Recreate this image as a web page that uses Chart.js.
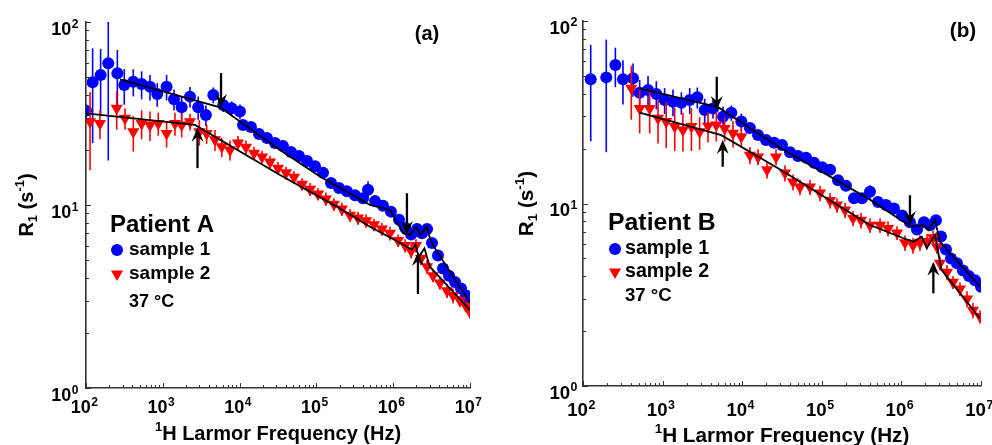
<!DOCTYPE html>
<html><head><meta charset="utf-8">
<script src="https://cdn.jsdelivr.net/npm/chart.js@4.4.1/dist/chart.umd.min.js"></script>
<style>
html,body{margin:0;padding:0;background:#fff;width:992px;height:445px;overflow:hidden}
canvas{position:absolute;top:0}
#ca{left:0}
#cb{left:496px}
</style></head><body>
<canvas id="ca" width="496" height="445"></canvas>
<canvas id="cb" width="496" height="445"></canvas>
<script>
// ---------- Tick labels ----------
const xTickExps = ['2','3','4','5','6','7'];
const yTickExps = ['0','1','2'];

// ---------- Panel (a) : Patient A ----------
const aS1Freq = [100,122,155,195,256,315,413,530,681,847,1120,1400,1760,2260,2890,3640,4550,6110,7880,10100,
  11070,14060,17900,22700,28900,36700,46700,59300,75500,95900,122000,155000,197000,250000,318000,404000,470000,580000,736000,935000,
  1190000,1430000,1710000,2040000,2370000,2760000,3200000,3830000,4450000,5330000,6380000,7640000,8870000,10000000];
const aS1R = [32.7,46.8,51.3,59.5,52.4,45.3,47.2,45.8,44.3,40.4,44.3,37.8,34.2,39.1,34.2,31.0,39.9,35.2,33.8,32.4,
  27.4,26.7,24.4,23.2,21.8,21.0,19.5,18.5,17.4,16.3,15.0,13.2,12.4,11.9,11.3,10.9,12.1,10.5,9.9,9.2,
  8.3,7.5,6.9,7.4,7.0,7.4,6.2,5.3,4.5,4.1,3.8,3.5,3.2,2.95];
const aS1Err = [3,25,20,42,18,10,8,8,7,6,7,5,5,5,5,4,4,3,3,3,
  1.5,1.5,1.3,1.2,1.1,1.4,1.0,1.0,0.9,1.0,0.8,0.8,0.7,0.7,0.6,0.6,1.4,0.6,0.5,0.5,
  0.5,0.4,0.4,0.5,0.4,0.4,0.3,0.3,0.3,0.25,0.2,0.2,0.2,0.2];

const aS2Freq = [113,152,251,322,413,530,681,873,1120,1440,1760,2260,2990,3720,4780,5850,7500,
  9530,12100,15400,19600,24900,31600,40200,51100,65000,82600,105000,133000,169000,215000,274000,348000,443000,562000,714000,908000,
  1160000,1430000,1710000,1980000,2300000,2760000,3300000,4060000,5020000,6010000,7410000,8870000,10000000];
const aS2R = [28.5,27.9,33.8,29.8,25.1,27.9,27.4,27.9,24.6,27.9,27.4,28.5,25.1,24.6,22.7,20.8,20.0,
  21.8,20.7,19.2,18.3,17.2,15.9,15.0,14.2,13.0,12.2,11.5,10.8,10.1,9.5,8.8,8.5,8.2,7.8,7.4,7.0,
  6.4,6.0,5.6,6.0,5.1,4.6,4.1,3.75,3.4,3.2,3.0,2.8,2.6];
const aS2Err = [13,5,8,4,5.5,5,5,4,4,4,4,3,4,3,3,2.5,2.5,
  2,1.8,1.6,1.5,1.4,1.3,1.2,1.1,1.0,1.0,0.9,0.9,0.8,0.8,0.7,0.7,0.7,0.6,0.6,0.6,
  0.5,0.5,0.5,0.5,0.4,0.4,0.3,0.3,0.3,0.3,0.2,0.2,0.2];

const aFit1Freq = [277,5560,33600,111000,499000,908000,1350000,1660000,2000000,2270000,2720000,3000000,3400000,10000000];
const aFit1R = [48.6,34.2,20.0,14.3,10.0,9.4,7.0,6.86,7.6,6.86,7.6,6.6,5.9,2.93];
const aFit2Freq = [100,2620,33600,184000,499000,1110000,1740000,1950000,2150000,2550000,3000000,10000000];
const aFit2R = [31.7,27.4,14.6,9.8,7.6,6.36,5.7,6.1,5.2,5.8,4.6,2.67];

const aArrowFreq = [5730,2830,1510000,2100000];
const aArrowFrom = [52.6,15.9,11.6,3.26];
const aArrowTo = [33.9,26.4,6.86,5.53];

// ---------- Panel (b) : Patient B ----------
const bS1Freq = [125,196,255,318,425,515,656,834,1060,1350,1720,2190,2730,3380,4300,5740,7300,9750,
  12500,15800,19900,25100,31600,39900,50200,63400,79800,101000,127000,160000,201000,254000,320000,403000,508000,641000,807000,1020000,
  1280000,1570000,1920000,2290000,2720000,3140000,3630000,4200000,4990000,5940000,7060000,8410000,10000000];
const bS1R = [47.9,49.1,57.4,47.9,48.5,40.5,41.9,39.8,36.9,36.1,35.7,36.9,38.2,32.5,33.2,29.9,31.4,28.1,
  25.9,23.7,22.3,21.5,20.9,19.1,18.2,17.8,16.7,15.8,15.3,13.4,12.5,10.7,10.7,11.6,10.2,9.8,9.4,8.6,
  7.9,7.2,7.9,7.6,8.1,6.6,5.6,5.0,4.7,4.3,4.0,3.8,3.5];
const bS1Err = [26,30,14,13,10,7,8,7,6,6,5,6,5,5,4,4,3,3,
  1.5,1.4,1.3,1.2,1.2,1.1,1.0,1.0,0.9,0.9,0.8,0.8,0.7,0.6,0.6,1.0,0.6,0.5,0.5,0.5,
  0.4,0.4,0.4,0.4,0.4,0.35,0.3,0.3,0.25,0.25,0.2,0.2,0.2];

const bS2Freq = [404,515,688,876,1110,1420,1800,2300,2920,3720,4730,6020,7660,9750,
  12500,15800,20500,26600,34500,43500,53200,71100,94900,127000,155000,196000,247000,311000,403000,539000,679000,881000,
  1110000,1400000,1710000,2100000,2500000,2800000,3050000,3740000,4450000,5440000,6670000,7930000,9710000];
const bS2R = [42.8,33.2,33.2,29.3,28.1,26.4,25.3,26.4,24.7,26.6,26.9,25.8,24.3,23.2,
  18.4,18.0,15.3,18.0,14.7,13.1,12.3,12.3,11.4,10.4,9.8,9.2,8.3,8.1,7.6,7.6,7.3,6.9,
  6.1,5.9,6.1,6.2,6.5,5.8,4.7,4.2,3.7,3.4,3.0,2.6,2.4];
const bS2Err = [14,9,9,8,8,7,6,7,5,5,5,4,4,3,
  2,1.8,1.6,1.8,1.5,1.3,1.2,1.2,1.1,1.0,0.9,0.9,0.8,0.8,0.7,0.7,0.7,0.6,
  0.6,0.6,0.6,0.6,0.6,0.5,0.4,0.4,0.3,0.3,0.3,0.25,0.2];

const bFit1Freq = [515,4970,28200,403000,1060000,1410000,1880000,2180000,2640000,3050000,9700000];
const bFit1R = [42.8,33.7,20.5,10.5,7.95,7.46,7.62,7.16,8.13,6.18,3.5];
const bFit2Freq = [515,5460,28200,403000,1060000,1410000,1800000,2080000,2640000,2910000,3200000,9700000];
const bFit2R = [31.5,23.7,15.6,7.62,6.45,6.18,6.58,5.69,6.72,5.34,4.32,2.35];

const bArrowFreq = [4790,5690,1280000,2520000];
const bArrowFrom = [49.5,15.9,11.1,3.22];
const bArrowTo = [32.5,22.3,7.62,4.8];

// ---------- drawing ----------
const BLUE = '#0000ff', RED = '#ff0000', AXIS = '#333333';
const FF = '"Liberation Sans", Arial, Helvetica, sans-serif';
function pts(f, r) { return f.map((x, i) => ({x: x, y: r[i]})); }

function drawPow(c, exp, x, y, align, s, raise) {
  const b = 18 * s, e = 12 * s;
  c.font = 'bold ' + b + 'px ' + FF; const wb = c.measureText('10').width;
  c.font = 'bold ' + e + 'px ' + FF; const we = c.measureText(exp).width;
  const x0 = align === 'right' ? x - wb - we : x - (wb + we) / 2;
  c.textAlign = 'left'; c.textBaseline = 'alphabetic'; c.fillStyle = '#000';
  c.font = 'bold ' + b + 'px ' + FF; c.fillText('10', x0, y);
  c.font = 'bold ' + e + 'px ' + FF; c.fillText(exp, x0 + wb + 0.5, y - raise * s);
}
function drawRuns(c, runs, x, y) {
  let total = 0;
  runs.forEach(r => { c.font = 'bold ' + r.size + 'px ' + FF; r.w = c.measureText(r.t).width; total += r.w; });
  let cx = x - total / 2;
  c.textAlign = 'left'; c.textBaseline = 'alphabetic'; c.fillStyle = '#000';
  runs.forEach(r => { c.font = 'bold ' + r.size + 'px ' + FF; c.fillText(r.t, cx, y + r.dy); cx += r.w; });
}
function arrow(c, x, y0, y1) {
  const dir = y1 > y0 ? 1 : -1, L = 14, W = 6, N = 9;
  c.strokeStyle = '#000'; c.lineWidth = 2.3;
  c.beginPath(); c.moveTo(x, y0); c.lineTo(x, y1 - dir * N); c.stroke();
  c.fillStyle = '#000';
  c.beginPath(); c.moveTo(x, y1); c.lineTo(x - W, y1 - dir * L); c.lineTo(x, y1 - dir * N); c.lineTo(x + W, y1 - dir * L); c.closePath(); c.fill();
}

function build(P) {
  const s = P.s;
  const decor = {
    id: 'decor',
    beforeDatasetDraw(chart, args) {
      const ds = chart.data.datasets[args.index];
      if (!ds.errBars) return;
      const xs = chart.scales.x, ys = chart.scales.y, c = chart.ctx, a = chart.chartArea;
      c.save();
      c.beginPath(); c.rect(a.left, a.top, a.right - a.left, a.bottom - a.top); c.clip();
      c.strokeStyle = ds.backgroundColor; c.lineWidth = 1.6;
      ds.data.forEach((p, i) => {
        const e = ds.errBars[i];
        const px = xs.getPixelForValue(p.x);
        const y1 = ys.getPixelForValue(p.y + e), y2 = ys.getPixelForValue(Math.max(p.y - e, 1.01));
        c.beginPath(); c.moveTo(px, y1); c.lineTo(px, y2); c.stroke();
      });
      c.restore();
    },
    afterDraw(chart) {
      const xs = chart.scales.x, ys = chart.scales.y, c = chart.ctx, a = chart.chartArea;
      c.save();
      // inward tick marks
      c.strokeStyle = AXIS; c.lineWidth = 1;
      for (let e = 2; e <= 7; e++) for (let m = 1; m <= 9; m++) {
        if (e === 7 && m > 1) break;
        const px = Math.round(xs.getPixelForValue(m * Math.pow(10, e))) + 0.5, L = m === 1 ? 5 : 3;
        c.beginPath(); c.moveTo(px, a.bottom); c.lineTo(px, a.bottom - L); c.stroke();
      }
      for (let e = 0; e <= 2; e++) for (let m = 1; m <= 9; m++) {
        if (e === 2 && m > 1) break;
        const py = Math.round(ys.getPixelForValue(m * Math.pow(10, e))) + 0.5, L = m === 1 ? 5 : 3;
        c.beginPath(); c.moveTo(a.left, py); c.lineTo(a.left + L, py); c.stroke();
      }
      // tick labels
      xTickExps.forEach(ex => drawPow(c, ex, xs.getPixelForValue(Math.pow(10, +ex)) - 2, P.xLabBase, 'center', s, 7));
      yTickExps.forEach(ex => drawPow(c, ex, a.left - P.yLabGap, ys.getPixelForValue(Math.pow(10, +ex)) + 12.5, 'right', s, 7));
      // axis titles
      drawRuns(c, [{t: '1', size: 13 * s, dy: -9 * s}, {t: 'H Larmor Frequency (Hz)', size: 20 * s, dy: 0}],
        (a.left + a.right) / 2, P.xTitleBase);
      c.save();
      c.translate(P.yTitleX, (a.top + a.bottom) / 2);
      c.rotate(-Math.PI / 2);
      drawRuns(c, [{t: 'R', size: 20 * s, dy: 0}, {t: '1', size: 13 * s, dy: 4 * s}, {t: ' (s', size: 20 * s, dy: 0},
        {t: '-1', size: 13 * s, dy: -9 * s}, {t: ')', size: 20 * s, dy: 0}], 0, 0);
      c.restore();
      // arrows
      P.arrF.forEach((f, i) => {
        arrow(c, xs.getPixelForValue(f), ys.getPixelForValue(P.arrFrom[i]), ys.getPixelForValue(P.arrTo[i]));
      });
      // panel tag
      c.fillStyle = '#000'; c.textAlign = 'center'; c.textBaseline = 'middle';
      c.font = 'bold ' + (20 * s) + 'px ' + FF;
      c.fillText(P.tag, P.tagX, P.tagY);
      // legend text
      c.textAlign = 'left';
      c.font = 'bold ' + (24 * s) + 'px ' + FF;
      c.fillText(P.patient, P.patX, P.legY[0]);
      c.font = 'bold ' + (19 * s) + 'px ' + FF;
      c.fillText('sample 1', P.textX, P.legY[1]);
      c.fillText('sample 2', P.textX, P.legY[2]);
      c.font = 'bold ' + (18 * s) + 'px ' + FF;
      c.fillText('37 \u00B0C', P.textX, P.legY[3]);
      // legend markers
      c.fillStyle = BLUE;
      c.beginPath(); c.arc(P.markX, P.legY[1], 6, 0, Math.PI * 2); c.fill();
      c.fillStyle = RED;
      const ty = P.legY[2], r = 7;
      c.beginPath(); c.moveTo(P.markX, ty + r); c.lineTo(P.markX - r * 0.866, ty - r / 2); c.lineTo(P.markX + r * 0.866, ty - r / 2); c.closePath(); c.fill();
      c.restore();
    }
  };

  const axisCommon = {
    type: 'logarithmic',
    ticks: {display: false},
    grid: {display: false, drawTicks: false},
    border: {display: true, color: AXIS, width: 1.6}
  };

  new Chart(document.getElementById(P.canvas).getContext('2d'), {
    type: 'scatter',
    data: {
      datasets: [
        {label: 'fit 1', data: pts(P.fit1f, P.fit1r), showLine: true, borderColor: '#000', borderWidth: 1.8, pointRadius: 0, fill: false, order: 0},
        {label: 'fit 2', data: pts(P.fit2f, P.fit2r), showLine: true, borderColor: '#000', borderWidth: 1.8, pointRadius: 0, fill: false, order: 0},
        {label: 'sample 2', data: pts(P.s2f, P.s2r), errBars: P.s2e, backgroundColor: RED, borderColor: RED, borderWidth: 0,
          pointStyle: 'triangle', pointRotation: 180, pointRadius: 7, order: 1},
        {label: 'sample 1', data: pts(P.s1f, P.s1r), errBars: P.s1e, backgroundColor: BLUE, borderColor: BLUE, borderWidth: 0,
          pointStyle: 'circle', pointRadius: 6, order: 2}
      ]
    },
    options: {
      responsive: false, animation: false, devicePixelRatio: 1, events: [],
      layout: {padding: {left: 0, top: P.padTop, right: P.padRight, bottom: 0}},
      plugins: {legend: {display: false}, tooltip: {enabled: false}},
      scales: {
        x: Object.assign({}, axisCommon, {position: 'bottom', min: 100, max: 1e7, afterFit(sc) { sc.height = P.bottomH; }}),
        y: Object.assign({}, axisCommon, {position: 'left', min: 1, max: 100, afterFit(sc) { sc.width = P.leftW; }})
      }
    },
    plugins: [decor]
  });
}

build({
  canvas: 'ca', s: 1,
  s1f: aS1Freq, s1r: aS1R, s1e: aS1Err, s2f: aS2Freq, s2r: aS2R, s2e: aS2Err,
  fit1f: aFit1Freq, fit1r: aFit1R, fit2f: aFit2Freq, fit2r: aFit2R,
  arrF: aArrowFreq, arrFrom: aArrowFrom, arrTo: aArrowTo,
  padTop: 22, padRight: 26, leftW: 86, bottomH: 57,
  xLabBase: 413, xTitleBase: 440, yTitleX: 33, yLabGap: 8,
  tag: '(a)', tagX: 427, tagY: 34,
  patient: 'Patient A', patX: 110, textX: 129, markX: 117, legY: [225, 250, 274, 302]
});
build({
  canvas: 'cb', s: 1.035,
  s1f: bS1Freq, s1r: bS1R, s1e: bS1Err, s2f: bS2Freq, s2r: bS2R, s2e: bS2Err,
  fit1f: bFit1Freq, fit1r: bFit1R, fit2f: bFit2Freq, fit2r: bFit2R,
  arrF: bArrowFreq, arrFrom: bArrowFrom, arrTo: bArrowTo,
  padTop: 21, padRight: 11, leftW: 87, bottomH: 59,
  xLabBase: 416, xTitleBase: 442, yTitleX: 37, yLabGap: 6,
  tag: '(b)', tagX: 467, tagY: 31,
  patient: 'Patient B', patX: 112, textX: 129, markX: 119, legY: [223, 249, 272, 296]
});
</script>
</body></html>
